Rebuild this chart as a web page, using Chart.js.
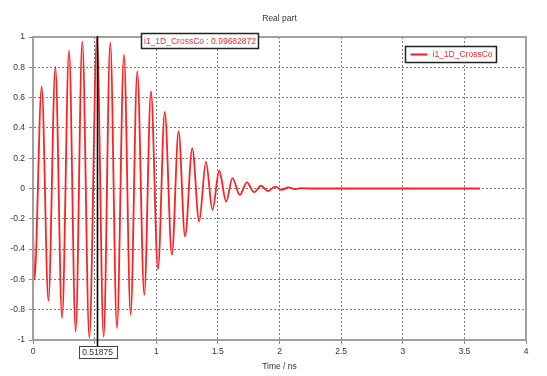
<!DOCTYPE html>
<html><head><meta charset="utf-8">
<script src="https://cdn.jsdelivr.net/npm/chart.js@4/dist/chart.umd.min.js"></script>
<style>html,body{margin:0;padding:0;background:#fff;}</style>
</head><body>
<canvas id="c" width="547" height="376"></canvas>
<script>
// ---- data ----
const chartTitle = 'Real part';
const seriesName = 'i1_1D_CrossCo';
const xAxisTitle = 'Time / ns';
const timeNs = [0, 0.011, 0.0705, 0.125, 0.1815, 0.236, 0.2925, 0.346, 0.400, 0.457,
  0.51875, 0.573, 0.627, 0.681, 0.738, 0.792, 0.846, 0.903, 0.957, 1.014,
  1.069, 1.127, 1.181, 1.234, 1.292, 1.348, 1.403, 1.456, 1.511, 1.567,
  1.618, 1.678, 1.735, 1.794, 1.851, 1.905, 1.964, 2.019, 2.072, 2.126,
  2.18, 2.25, 3.626];
const realPart = [-0.26, -0.60, 0.674, -0.740, 0.802, -0.856, 0.912, -0.945, 0.971, -0.985,
  0.9968, -0.980, 0.965, -0.922, 0.883, -0.834, 0.773, -0.702, 0.641, -0.533,
  0.505, -0.438, 0.377, -0.317, 0.267, -0.218, 0.178, -0.141, 0.117, -0.086,
  0.069, -0.042, 0.040, -0.024, 0.018, -0.017, 0.013, -0.009, 0.007, -0.004,
  0.002, 0, 0];
const markerTime = 0.51875;
const markerValueText = '0.99682872';
const markerTimeText = '0.51875';
const xTickValues = [0, 0.5, 1, 1.5, 2, 2.5, 3, 3.5, 4];
const yTickValues = [-1, -0.8, -0.6, -0.4, -0.2, 0, 0.2, 0.4, 0.6, 0.8, 1];

// ---- chart ----
const FONT = '"Liberation Sans", Arial, sans-serif';
const FSIZE = 8.5;
Chart.defaults.font.family = FONT;
Chart.defaults.font.size = FSIZE;
Chart.defaults.color = '#333';

const points = timeNs.map((t, i) => ({x: t, y: realPart[i]}));

const overlay = {
  id: 'overlay',
  afterDatasetsDraw(chart) {
    const {ctx, chartArea: a, scales: {x}} = chart;
    ctx.save();
    // frame
    ctx.strokeStyle = '#a0a0a0';
    ctx.lineWidth = 2;
    ctx.strokeRect(a.left, a.top, a.right - a.left, a.bottom - a.top);
    // title
    ctx.fillStyle = '#333';
    ctx.font = FSIZE + 'px ' + FONT;
    ctx.textAlign = 'center';
    ctx.textBaseline = 'middle';
    ctx.fillText(chartTitle, (a.left + a.right) / 2, 19);
    // marker line
    const mx = Math.round(x.getPixelForValue(markerTime)) + 0.5;
    ctx.strokeStyle = '#000';
    ctx.lineWidth = 1.6;
    ctx.beginPath();
    ctx.moveTo(mx, a.top - 1);
    ctx.lineTo(mx, a.bottom + 6);
    ctx.stroke();
    // marker x box
    const tw = ctx.measureText(markerTimeText).width;
    const bw = Math.round(tw + 7);
    ctx.fillStyle = '#fff';
    ctx.fillRect(mx - bw / 2, a.bottom + 6, bw, 12);
    ctx.strokeStyle = '#444';
    ctx.lineWidth = 1;
    ctx.strokeRect(Math.round(mx - bw / 2) + 0.5, a.bottom + 6.5, bw, 12);
    ctx.fillStyle = '#333';
    ctx.textAlign = 'center';
    ctx.fillText(markerTimeText, mx, a.bottom + 12.5);
    // value annotation box
    const ann = seriesName + ' : ' + markerValueText;
    const aw = ctx.measureText(ann).width + 5;
    const ax = 141.5, ay = 33.5, ah = 15;
    ctx.fillStyle = '#fff';
    ctx.fillRect(ax, ay, aw, ah);
    ctx.strokeStyle = '#222';
    ctx.lineWidth = 1.5;
    ctx.strokeRect(ax, ay, aw, ah);
    ctx.fillStyle = '#ff2a2a';
    ctx.textAlign = 'left';
    ctx.fillText(ann, ax + 2.5, ay + ah / 2 + 0.5);
    // legend
    const lw = ctx.measureText(seriesName).width;
    const lx = 405.5, ly = 46.5, lh = 16, lwid = lw + 31;
    ctx.fillStyle = '#fff';
    ctx.fillRect(lx, ly, lwid, lh);
    ctx.strokeStyle = '#222';
    ctx.lineWidth = 1.5;
    ctx.strokeRect(lx, ly, lwid, lh);
    ctx.strokeStyle = '#ff1a1a';
    ctx.lineWidth = 2;
    ctx.beginPath();
    ctx.moveTo(lx + 5, ly + lh / 2);
    ctx.lineTo(lx + 22, ly + lh / 2);
    ctx.stroke();
    ctx.fillStyle = '#ff2a2a';
    ctx.fillText(seriesName, lx + 27, ly + lh / 2 + 0.5);
    ctx.restore();
  }
};

const gridOpts = {color: '#7a7a7a', lineWidth: 1, tickLength: 4,
  tickColor: '#888', tickBorderDash: [], tickWidth: 1};
const borderOpts = {display: true, color: '#a0a0a0', width: 2, dash: [2, 2]};

new Chart(document.getElementById('c'), {
  type: 'line',
  data: {
    datasets: [{
      label: seriesName,
      data: points,
      borderColor: '#ff2020',
      borderWidth: 1.8,
      pointRadius: 0,
      fill: false,
      cubicInterpolationMode: 'monotone'
    }]
  },
  options: {
    responsive: false,
    animation: false,
    devicePixelRatio: 1,
    layout: {padding: {top: 37, right: 21, bottom: 0, left: 0}},
    plugins: {legend: {display: false}, title: {display: false}, tooltip: {enabled: false}},
    scales: {
      x: {
        type: 'linear', min: 0, max: 4,
        afterBuildTicks: s => { s.ticks = xTickValues.map(v => ({value: v})); },
        afterFit: s => { s.height = 36; },
        ticks: {padding: 3, maxRotation: 0, autoSkip: false, color: '#333',
          callback: v => String(v)},
        grid: gridOpts,
        border: borderOpts,
        title: {display: true, text: xAxisTitle, color: '#333', padding: {top: 0, bottom: 4}, font: {size: FSIZE}}
      },
      y: {
        type: 'linear', min: -1, max: 1,
        afterBuildTicks: s => { s.ticks = yTickValues.map(v => ({value: v})); },
        afterFit: s => { s.width = 33; },
        ticks: {padding: 4, color: '#333', callback: v => String(Math.round(v * 10) / 10)},
        grid: gridOpts,
        border: borderOpts
      }
    }
  },
  plugins: [overlay]
});
</script>
</body></html>
